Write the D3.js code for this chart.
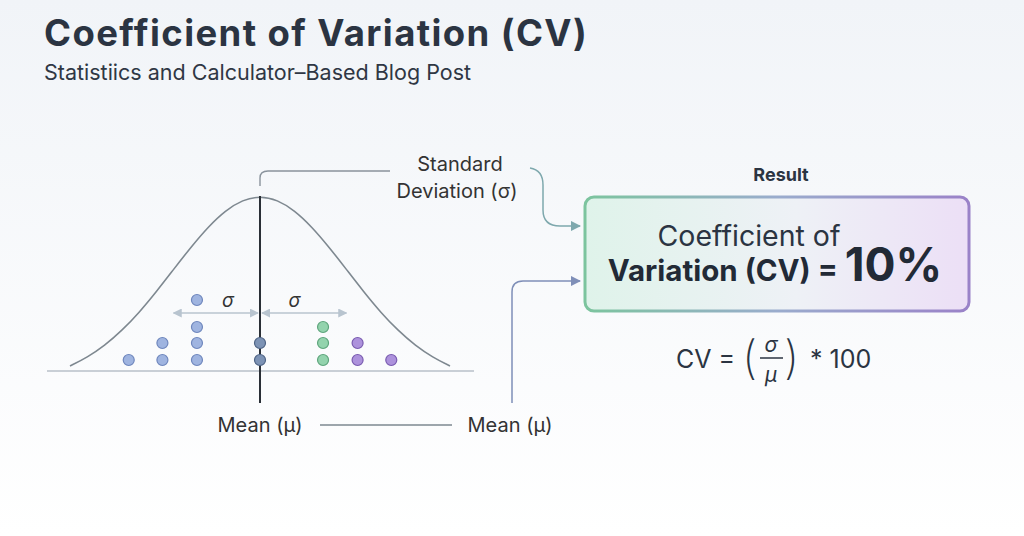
<!DOCTYPE html><html><head><meta charset="utf-8"><script src="https://cdn.jsdelivr.net/npm/d3@7"></script>
<style>body{margin:0;background:#fff}svg{display:block;font-family:Inter,"Noto Sans",sans-serif}</style></head><body><svg id="c" width="1024" height="536"></svg>
<script>
const curveX=[-2.2,-2,-1.8,-1.6,-1.4,-1.2,-1,-0.8,-0.6,-0.4,-0.2,0,0.2,0.4,0.6,0.8,1,1.2,1.4,1.6,1.8,2,2.2];
const curveY=[0.089,0.135,0.198,0.278,0.375,0.487,0.607,0.726,0.835,0.923,0.980,1,0.980,0.923,0.835,0.726,0.607,0.487,0.375,0.278,0.198,0.135,0.089];
const dotCols=[-1.52,-1.13,-0.73,0,0.73,1.13,1.52];
const dotCounts=[1,2,4,2,3,2,1];
const dotGroups=["blue","blue","blue","mean","green","purple","purple"];
const colors={blue:["#9fb4e0","#6f87bd"],mean:["#7d93b5","#4f6485"],green:["#93d3ad","#5ea57c"],purple:["#ad92dc","#7a5cb0"]};
const svg=d3.select("#c");
const defs=svg.append("defs");
const bg=defs.append("linearGradient").attr("id","bg").attr("x1",0).attr("y1",0).attr("x2",0).attr("y2",1);
bg.append("stop").attr("offset",0).attr("stop-color","#f1f4f8");bg.append("stop").attr("offset",1).attr("stop-color","#ffffff");
svg.append("rect").attr("width",1024).attr("height",536).attr("fill","url(#bg)");
const fg=defs.append("linearGradient").attr("id","bf");
fg.append("stop").attr("offset",0).attr("stop-color","#dff3ea");fg.append("stop").attr("offset",0.55).attr("stop-color","#eef1f6");fg.append("stop").attr("offset",1).attr("stop-color","#ecdff6");
const sg=defs.append("linearGradient").attr("id","bs");
sg.append("stop").attr("offset",0).attr("stop-color","#7cc49e");sg.append("stop").attr("offset",0.5).attr("stop-color","#9aaccd");sg.append("stop").attr("offset",1).attr("stop-color","#9a82c8");
["a1","a2"].forEach((id,i)=>defs.append("marker").attr("id",id).attr("viewBox","0 0 10 10").attr("refX",9).attr("refY",5).attr("markerWidth",7).attr("markerHeight",7).attr("orient","auto")
 .append("path").attr("d","M0,0L10,5L0,10z").attr("fill",i?"#7f8fb8":"#7ea8ad"));
defs.append("marker").attr("id","sa").attr("viewBox","0 0 10 10").attr("refX",9).attr("refY",5).attr("markerWidth",6).attr("markerHeight",6).attr("orient","auto-start-reverse")
 .append("path").attr("d","M0,0L10,5L0,10z").attr("fill","#b8c4cf");

svg.append("text").attr("x",44).attr("y",46).attr("font-size",36.5).attr("font-weight",700).attr("letter-spacing",1.4).attr("fill","#2b3442").text("Coefficient of Variation (CV)");
svg.append("text").attr("x",44).attr("y",80).attr("font-size",21.5).attr("fill","#2f3744").text("Statistiics and Calculator–Based Blog Post");

const x=d3.scaleLinear().domain([-2.2,2.2]).range([70,450]);
const y=d3.scaleLinear().domain([0.089,1]).range([366,196]);
const lvl=d3.scaleOrdinal().domain([0,1,2,3]).range([360,343,327,300]);
svg.append("line").attr("x1",47).attr("x2",474).attr("y1",371).attr("y2",371).attr("stroke","#b8c0c8").attr("stroke-width",1.5);
svg.append("path").datum(curveX.map((v,i)=>[v,curveY[i]])).attr("d",d3.line().x(d=>x(d[0])).y(d=>y(d[1])).curve(d3.curveBasis)).attr("fill","none").attr("stroke","#7e8890").attr("stroke-width",1.6);
svg.append("line").attr("x1",x(0)).attr("x2",x(0)).attr("y1",196).attr("y2",403).attr("stroke","#2a2f36").attr("stroke-width",2);
[[x(-1),x(0)-2],[x(0)+2,x(1)]].forEach(([a,b])=>svg.append("line").attr("x1",a).attr("x2",b).attr("y1",313).attr("y2",313).attr("stroke","#b8c4cf").attr("stroke-width",1.5).attr("marker-start","url(#sa)").attr("marker-end","url(#sa)"));
[x(-0.37),x(0.4)].forEach(px=>svg.append("text").attr("x",px).attr("y",307).attr("text-anchor","middle").attr("font-size",19).attr("font-style","italic").attr("fill","#333").text("σ"));
const dots=[];dotCols.forEach((c,i)=>d3.range(dotCounts[i]).forEach(k=>dots.push({c,k,g:dotGroups[i]})));
svg.selectAll("circle.d").data(dots).join("circle").attr("cx",d=>x(d.c)).attr("cy",d=>lvl(d.k)).attr("r",5.5).attr("fill",d=>colors[d.g][0]).attr("stroke",d=>colors[d.g][1]).attr("stroke-width",1.2);

svg.append("path").attr("d","M260,186 L260,178 Q260,171 268,171 L390,171").attr("fill","none").attr("stroke","#8a939c").attr("stroke-width",1.4);
svg.append("text").attr("x",460).attr("y",171).attr("text-anchor","middle").attr("font-size",20).attr("fill","#333").text("Standard");
svg.append("text").attr("x",457).attr("y",198).attr("text-anchor","middle").attr("font-size",20).attr("fill","#333").text("Deviation (σ)");
svg.append("path").attr("d","M530,168 Q543,170 543,185 L543,210 Q543,226 560,226 L580,226").attr("fill","none").attr("stroke","#7ea8ad").attr("stroke-width",1.5).attr("marker-end","url(#a1)");
svg.append("text").attr("x",260).attr("y",432).attr("text-anchor","middle").attr("font-size",20).attr("fill","#333").text("Mean (μ)");
svg.append("line").attr("x1",320).attr("x2",452).attr("y1",425).attr("y2",425).attr("stroke","#7e8890").attr("stroke-width",1.3);
svg.append("text").attr("x",510).attr("y",432).attr("text-anchor","middle").attr("font-size",20).attr("fill","#333").text("Mean (μ)");
svg.append("path").attr("d","M512,403 L512,292 Q512,281 523,281 L580,281").attr("fill","none").attr("stroke","#7f8fb8").attr("stroke-width",1.5).attr("marker-end","url(#a2)");

svg.append("text").attr("x",781).attr("y",181).attr("text-anchor","middle").attr("font-size",18).attr("font-weight",700).attr("fill","#2b3442").text("Result");
svg.append("rect").attr("x",585).attr("y",197).attr("width",384).attr("height",114).attr("rx",9).attr("fill","url(#bf)").attr("stroke","url(#bs)").attr("stroke-width",3);
svg.append("text").attr("x",749).attr("y",246).attr("text-anchor","middle").attr("font-size",28.5).attr("fill","#2b3442").text("Coefficient of");
const t=svg.append("text").attr("x",775).attr("y",281).attr("text-anchor","middle").attr("fill","#222a36").attr("font-weight",700);
t.append("tspan").attr("font-size",29.5).text("Variation (CV) = ");
t.append("tspan").attr("font-size",46).text("10%");

const f=svg.append("g").attr("fill","#2b3442").attr("font-size",25);
f.append("text").attr("x",676).attr("y",368).text("CV =");
f.append("text").attr("x",742).attr("y",374).attr("font-size",46).attr("font-weight",200).text("(");
f.append("text").attr("x",784).attr("y",374).attr("font-size",46).attr("font-weight",200).text(")");
f.append("text").attr("x",771).attr("y",352).attr("text-anchor","middle").attr("font-size",21).attr("font-style","italic").text("σ");
f.append("line").attr("x1",760).attr("x2",783).attr("y1",358).attr("y2",358).attr("stroke","#2b3442").attr("stroke-width",1.5);
f.append("text").attr("x",771).attr("y",382).attr("text-anchor","middle").attr("font-size",21).attr("font-style","italic").text("μ");
f.append("text").attr("x",810).attr("y",368).text("* 100");
</script></body></html>
